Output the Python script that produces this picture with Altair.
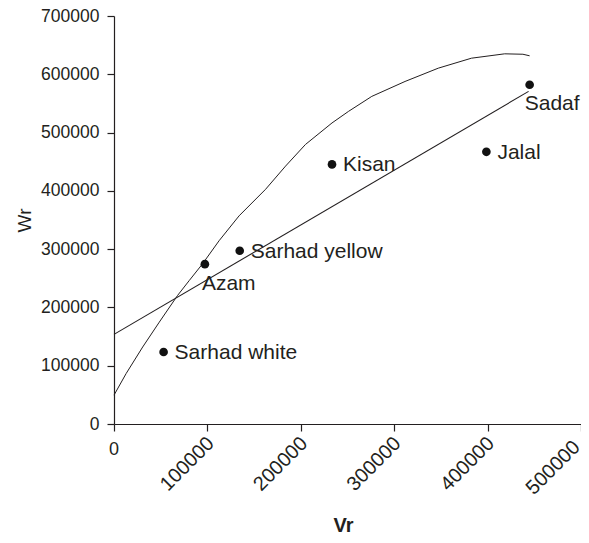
import altair as alt
import pandas as pd

# Genotypes (array points)
varieties = ["Sarhad white", "Azam", "Sarhad yellow", "Kisan", "Jalal", "Sadaf"]
vr = [53100, 97300, 134600, 233400, 398700, 445000]
wr = [123500, 274200, 297300, 445400, 467000, 582100]
label_pos = ["right", "below", "right", "right", "right", "below_end"]

# Limiting curve
curve_vr = [0, 13000, 30700, 48500, 68000, 80500, 94700, 112500, 133900, 162300,
            183700, 205000, 233400, 251200, 276000, 311600, 347200, 382700,
            418300, 437800, 445000]
curve_wr = [49500, 86600, 132100, 174800, 220400, 246000, 274600, 314400, 357100,
            402700, 442500, 479600, 516500, 536500, 562100, 587700, 610500,
            627600, 635100, 634400, 631700]

# Regression line end points
reg_vr = [0, 443900]
reg_wr = [153800, 570700]

x_ticks = [0, 100000, 200000, 300000, 400000, 500000]
y_ticks = [0, 100000, 200000, 300000, 400000, 500000, 600000, 700000]

W, H = 467, 408
FONT = "Liberation Sans"
INK = "#231f20"

pts = pd.DataFrame({"Vr": vr, "Wr": wr, "name": varieties, "pos": label_pos})
curve = pd.DataFrame({"Vr": curve_vr, "Wr": curve_wr, "i": range(len(curve_vr))})
reg = pd.DataFrame({"Vr": reg_vr, "Wr": reg_wr})
zero = pd.DataFrame({"Vr": [x_ticks[0]], "t": [str(x_ticks[0])]})
last = pd.DataFrame({"Vr": [x_ticks[-1]], "t": [str(x_ticks[-1])]})

xs = alt.Scale(domain=[0, 500000], nice=False, zero=True)
ys = alt.Scale(domain=[0, 700000], nice=False, zero=True)

x_axis = alt.Axis(values=x_ticks, format="d", grid=False, labelAngle=-45,
                  labelAlign="right", labelBaseline="middle", labelPadding=9,
                  labelOffset=3, labelFontSize=20,
                  labelExpr="(datum.value == 0 || datum.value == 500000) ? '' : datum.label",
                  tickSize=7, title="Vr", titleFontWeight="bold",
                  titleFontSize=20, titleX=229, titleY=107,
                  titleBaseline="alphabetic", titleAlign="center")
y_axis = alt.Axis(values=y_ticks, format="d", grid=False, labelPadding=8,
                  labelFontSize=17.5,
                  tickSize=7, title="Wr", titleFontWeight="normal",
                  titleFontSize=19, titleX=-90, titleY=204, titleAngle=-90,
                  titleAlign="center", titleBaseline="middle")

base_x = alt.X("Vr:Q", scale=xs, axis=x_axis)
base_y = alt.Y("Wr:Q", scale=ys, axis=y_axis)
px = alt.X("Vr:Q", scale=xs)
py = alt.Y("Wr:Q", scale=ys)

curve_line = alt.Chart(curve).mark_line(color=INK, strokeWidth=1).encode(
    x=base_x, y=base_y, order="i:O")
reg_line = alt.Chart(reg).mark_line(color=INK, strokeWidth=1.1).encode(x=px, y=py)
dots = alt.Chart(pts).mark_point(filled=True, color="#111", size=75,
                                 opacity=1, shape="circle").encode(x=px, y=py)
lab_right = alt.Chart(pts).transform_filter("datum.pos == 'right'").mark_text(
    align="left", baseline="middle", dx=11, dy=1, font=FONT, fontSize=21,
    color=INK).encode(x=px, y=py, text="name:N")
lab_below = alt.Chart(pts).transform_filter("datum.pos == 'below'").mark_text(
    align="left", baseline="middle", dx=-3, dy=20, font=FONT, fontSize=21,
    color=INK).encode(x=px, y=py, text="name:N")
lab_below_end = alt.Chart(pts).transform_filter("datum.pos == 'below_end'").mark_text(
    align="right", baseline="middle", dx=50, dy=19, font=FONT, fontSize=21,
    color=INK).encode(x=px, y=py, text="name:N")
zero_lab = alt.Chart(zero).mark_text(
    align="center", baseline="middle", font=FONT, fontSize=18,
    color=INK).encode(x=px, y=alt.value(H + 26), text="t:N")
last_lab = alt.Chart(last).mark_text(
    align="right", baseline="middle", angle=315, dx=-6, font=FONT, fontSize=20,
    color=INK).encode(x=px, y=alt.value(H + 16), text="t:N")

chart = alt.layer(curve_line, reg_line, dots, lab_right, lab_below, lab_below_end,
                  zero_lab, last_lab).properties(
    width=W, height=H,
    autosize=alt.AutoSizeParams(type="none"),
    padding={"left": 106, "top": 8, "right": 0, "bottom": 111},
).configure_view(stroke=None).configure_axis(
    labelFont=FONT, labelColor=INK, titleFont=FONT,
    titleColor=INK, domainColor=INK, tickColor=INK, domainWidth=1.2,
    tickWidth=1.2, labelOverlap=False, labelFlush=False,
)

chart.save("out.html", embed_options={"renderer": "svg", "actions": False})
